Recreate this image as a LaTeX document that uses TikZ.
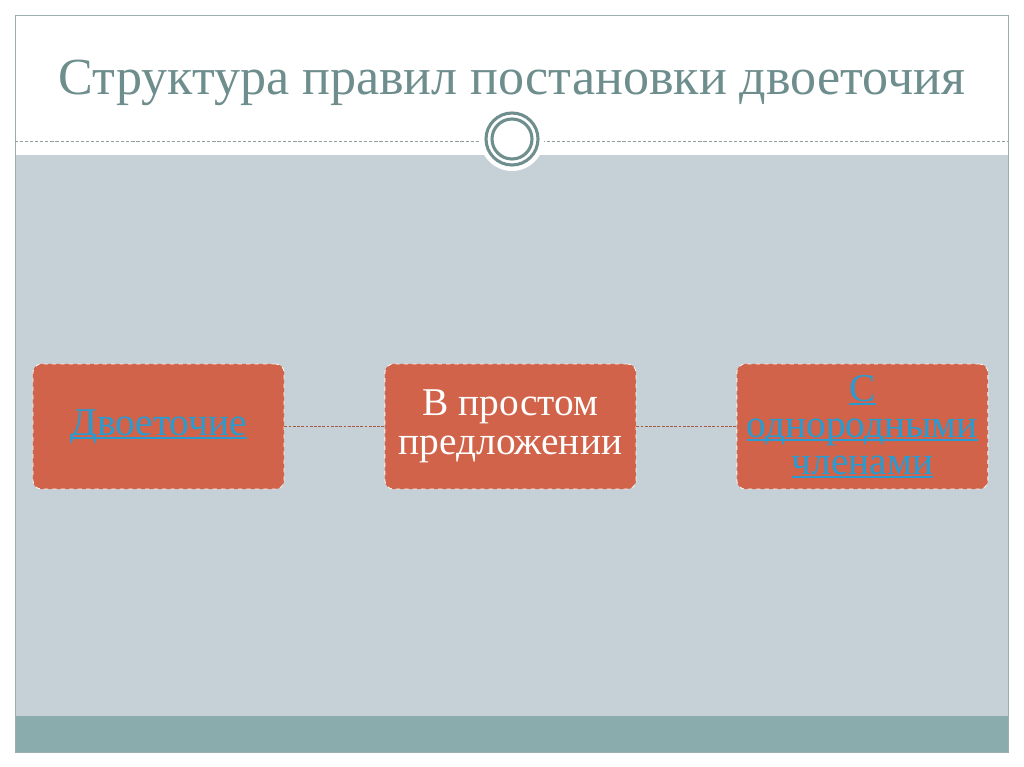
\documentclass[tikz,border=0pt]{standalone}
\usepackage{fontspec}
\setmainfont{Liberation Serif}
\usetikzlibrary{positioning}
\definecolor{slidepanel}{HTML}{C6D1D7}
\definecolor{slideband}{HTML}{8AACAC}
\definecolor{slideframe}{HTML}{9CAEAE}
\definecolor{titlegray}{HTML}{6E8D8D}
\definecolor{ringgray}{HTML}{6F8E8E}
\definecolor{boxred}{HTML}{D0634A}
\definecolor{linkblue}{HTML}{2A9BD0}
\definecolor{joinbrown}{HTML}{A45A44}
\newsavebox{\hlinkbox}
\newcommand{\hlink}[1]{\sbox\hlinkbox{#1}\rlap{\rule[-2.4pt]{\wd\hlinkbox}{1.3pt}}\usebox\hlinkbox}

\begin{document}
\begin{tikzpicture}[
  x=0.025cm, y=-0.025cm,
  frame/.style={draw=slideframe, line width=0.6pt},
  rule/.style={draw=slideframe!90!black, dash pattern=on 2.2pt off 1.4pt, line width=0.5pt},
  ring/.style={draw=ringgray, line width=2.2pt},
  topic/.style={rectangle, rounded corners=6pt, fill=boxred, draw=white!95!boxred,
    dashed, line width=0.6pt, minimum width=6.275cm, minimum height=3.125cm,
    align=center, font=\fontsize{28}{26}\selectfont},
  linkline/.style={draw=joinbrown, dash pattern=on 2pt off 1pt, line width=0.6pt},
]
\useasboundingbox (0,0) rectangle (1024,767);
\fill[white] (0,0) rectangle (1024,767);

% ---------- slide frame ----------
\fill[slidepanel] (15,155) rectangle (1008,716);
\fill[slideband] (15,716) rectangle (1008,752);
\draw[frame] (15,15) rectangle (1008,752);
\draw[rule] (15,141) -- (1008,141);

% ---------- title ----------
\node[anchor=base, text=titlegray, font=\fontsize{37}{40}\selectfont] (title) at (512,95)
  {Структура правил постановки двоеточия};

% ---------- ornament ----------
\fill[white] (512,139) circle [radius=32];
\foreach \r in {26,20} {
  \draw[ring] (512,139) circle [radius=\r];
}

% ---------- boxes ----------
\node[topic, text=linkblue] (colon) at (158.5,426.5) {\hlink{Двоеточие}};
\node[topic, text=white, right=2.5cm of colon] (simple) {В простом\\[2pt]предложении};
\node[topic, text=linkblue, right=2.5cm of simple] (homog)
  {\hlink{С}\\\hlink{однородными}\\\hlink{членами}};

\draw[linkline] (colon) -- (simple);
\draw[linkline] (simple) -- (homog);
\end{tikzpicture}
\end{document}
